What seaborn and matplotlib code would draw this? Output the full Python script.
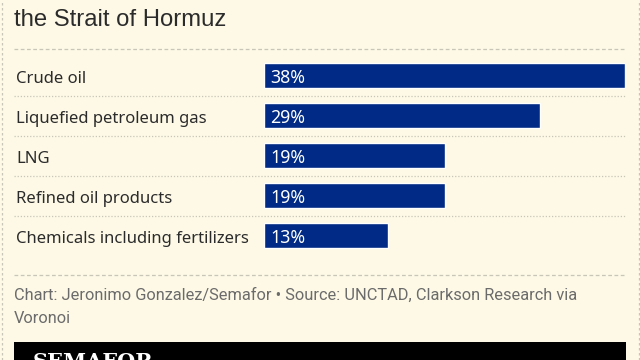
import matplotlib
matplotlib.use("Agg")
import matplotlib.pyplot as plt
import matplotlib.transforms as mtransforms
from matplotlib.patches import Rectangle
from matplotlib.lines import Line2D
import seaborn as sns

categories = ["Crude oil", "Liquefied petroleum gas", "LNG",
              "Refined oil products", "Chemicals including fertilizers"]
shares = [38, 29, 19, 19, 13]
title_line = "the Strait of Hormuz"
source_lines = ["Chart: Jeronimo Gonzalez/Semafor \u2022 Source: UNCTAD, Clarkson Research via",
                "Voronoi"]

BG = "#fdf9e6"
NAVY = "#002a85"
INK = "#2b2b2b"
GREY = "#6b6b6b"
RULE = "#c9c6b8"

W, H = 640, 360


def fx(px):
    return px / W


def fy(py):
    return 1 - py / H


sns.set_theme(style="white")
fig = plt.figure(figsize=(6.4, 3.6), dpi=100, facecolor=BG)

# plot area: bars run from x=264 to x=625 px for 38%
ax = fig.add_axes([fx(264), fy(255.5), fx(361), 200 / H])
ax.set_facecolor("none")
sns.barplot(x=shares, y=categories, orient="h", color=NAVY, width=0.64,
            saturation=1, ax=ax)
ax.set_xlim(0, max(shares))
ax.set_ylim(len(categories) - 0.5, -0.5)
ax.axis("off")

tr = mtransforms.blended_transform_factory(fig.transFigure, ax.transData)
for i, (cat, val) in enumerate(zip(categories, shares)):
    ax.text(fx(16), i + 0.19, cat, transform=tr, ha="left", va="baseline",
            fontsize=12, color=INK, family=["Noto Sans", "DejaVu Sans"])
    ax.text(fx(270), i + 0.19, f"{val}%", transform=tr, ha="left", va="baseline",
            fontsize=12.8, color="white", family=["Noto Sans", "DejaVu Sans"])
    if i < len(categories) - 1:
        ax.add_line(Line2D([fx(14), fx(626)], [i + 0.5, i + 0.5], transform=tr,
                           color=RULE, lw=0.9, ls=(0, (1, 1.5)), clip_on=False))

# title (second line of a cropped headline)
fig.text(fx(14), fy(26), title_line, ha="left", va="baseline", fontsize=17.2,
         color=INK, family="Liberation Sans")

# dashed rules and frame
for y in (49, 275):
    fig.add_artist(Line2D([fx(14), fx(626)], [fy(y), fy(y)], color=RULE, lw=0.9,
                          ls=(0, (3, 2))))
for x in (1.5, 638.5):
    fig.add_artist(Line2D([fx(x), fx(x)], [0, 1], color=RULE, lw=0.9,
                          ls=(0, (2, 2))))

# source
fig.text(fx(14), fy(300), source_lines[0], ha="left", va="baseline",
         fontsize=11.8, color=GREY, family="Roboto")
fig.text(fx(14), fy(323), source_lines[1], ha="left", va="baseline",
         fontsize=11.8, color=GREY, family="Roboto")

# black footer band with logo (cropped at the bottom edge, as in the original)
fig.add_artist(Rectangle((fx(14), 0), fx(612), fy(342), transform=fig.transFigure,
                         facecolor="black", edgecolor="none"))
fig.text(fx(33), fy(368), "SEMAFOR", ha="left", va="baseline", fontsize=15,
         color="white", family="DejaVu Serif", weight="bold")

fig.savefig("out.png", dpi=100, facecolor=BG)
